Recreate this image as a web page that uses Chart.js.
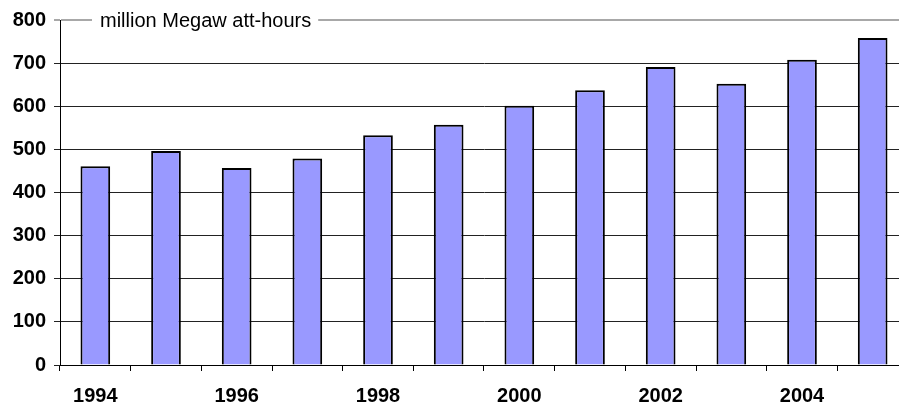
<!DOCTYPE html>
<html>
<head>
<meta charset="utf-8">
<script src="https://cdn.jsdelivr.net/npm/chart.js@4"></script>
<style>
  html, body { margin: 0; padding: 0; background: #fff; overflow: hidden; }
  #wrap { width: 908px; height: 410px; }
</style>
</head>
<body>
<div id="wrap"><canvas id="myChart"></canvas></div>
<script>
var years = ['1994', '1995', '1996', '1997', '1998', '1999', '2000', '2001', '2002', '2003', '2004', '2005'];
var mwh = [461, 496, 457, 479, 533, 557, 601, 637, 691, 652, 708, 758];
var unitLabel = 'million Megaw att-hours';
var yTicks = [0, 100, 200, 300, 400, 500, 600, 700, 800];

// white-backed caption sitting on the top border line
var captionPlugin = {
    id: 'caption',
    afterDraw: function (chart) {
        var ctx = chart.ctx;
        var area = chart.chartArea;
        ctx.save();
        ctx.font = '20px "Liberation Sans", Arial, sans-serif';
        var w = ctx.measureText(unitLabel).width;
        var x = 100;
        ctx.fillStyle = '#fff';
        ctx.fillRect(x - 8, area.top - 10, w + 15, 20);
        ctx.fillStyle = '#000';
        ctx.textBaseline = 'middle';
        ctx.fillText(unitLabel, x, area.top + 1);
        ctx.restore();
    }
};

var ctx = document.getElementById('myChart');

var myChart = new Chart(ctx, {
    type: 'bar',
    data: {
        labels: years,
        datasets: [{
            label: unitLabel,
            data: mwh,
            backgroundColor: '#9999FF',
            borderColor: '#000',
            borderWidth: 2,
            barPercentage: 0.42,
            categoryPercentage: 1.0
        }]
    },
    plugins: [captionPlugin],
    options: {
        responsive: true,
        maintainAspectRatio: false,
        animation: false,
        layout: { padding: { top: 19, right: 0, left: 0, bottom: 0 } },
        plugins: {
            legend: { display: false },
            tooltip: { enabled: false }
        },
        scales: {
            x: {
                grid: {
                    offset: true,
                    drawOnChartArea: false,
                    drawTicks: true,
                    tickLength: 6,
                    color: '#000'
                },
                border: { color: '#000', width: 1 },
                ticks: {
                    autoSkip: false,
                    maxRotation: 0,
                    padding: 13,
                    color: '#000',
                    font: { family: '"Liberation Sans", Arial, sans-serif', size: 20, weight: 'bold' },
                    callback: function (val, i) {
                        return i % 2 === 0 ? years[i] : '';
                    }
                },
                afterFit: function (scale) { scale.height = 45; }
            },
            y: {
                min: 0,
                max: 800,
                afterBuildTicks: function (scale) {
                    scale.ticks = yTicks.map(function (v) { return { value: v }; });
                },
                grid: {
                    tickLength: 6,
                    lineWidth: function (c) { return c.tick && c.tick.value === 800 ? 2 : 1; },
                    color: function (c) { return c.tick && c.tick.value === 800 ? '#a8a8a8' : '#222'; }
                },
                border: { color: '#000', width: 1 },
                ticks: {
                    padding: 8,
                    color: '#000',
                    font: { family: '"Liberation Sans", Arial, sans-serif', size: 20, weight: 'bold' }
                },
                afterFit: function (scale) { scale.width = 60; }
            }
        }
    }
});
</script>
</body>
</html>
